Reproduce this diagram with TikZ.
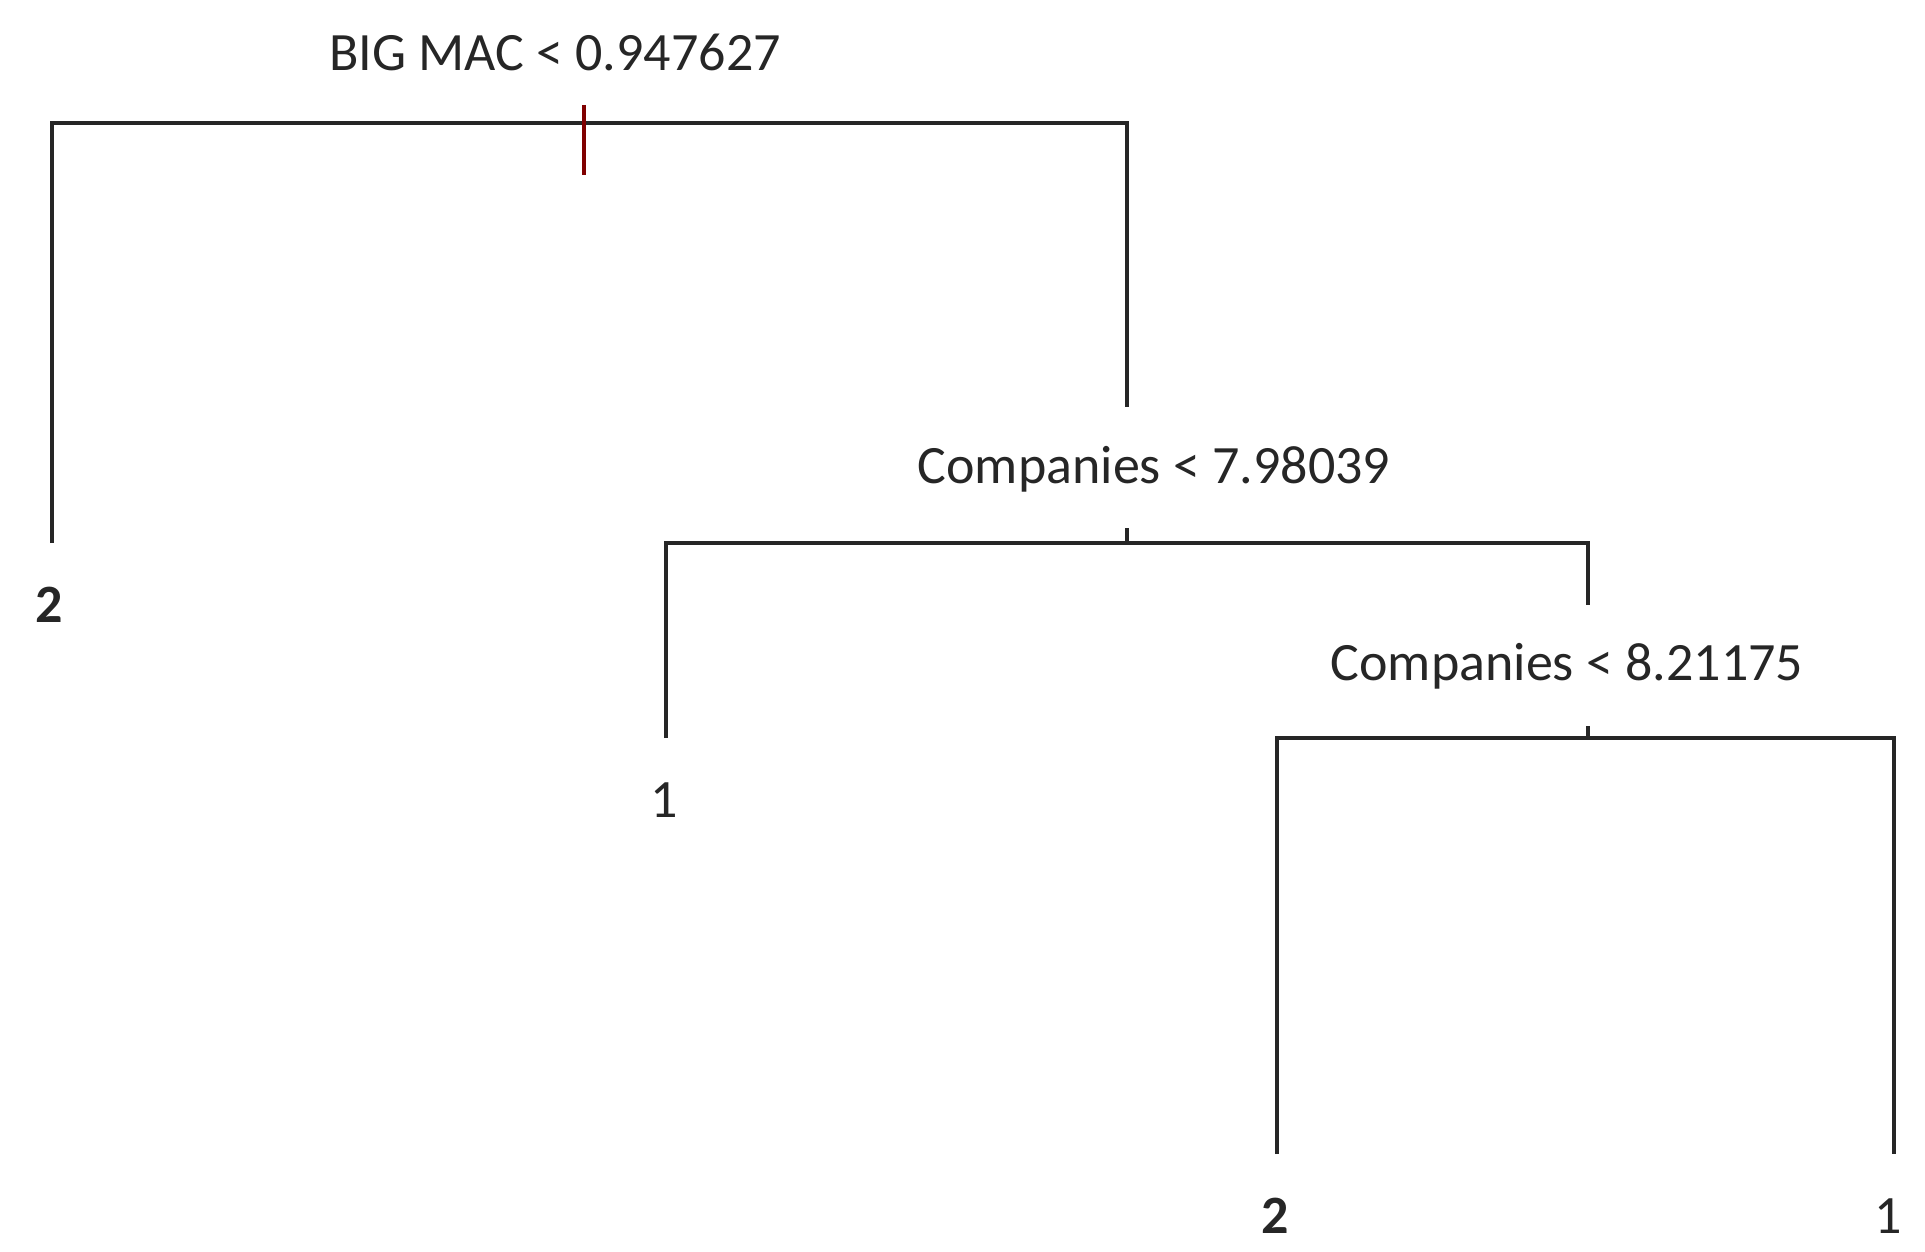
\documentclass[tikz,border=0pt]{standalone}
\usepackage{fontspec}
\setmainfont{Carlito}
\begin{document}
\begin{tikzpicture}[x=1pt,y=-1pt,
  br/.style={line width=4pt,black!85},
  lbl/.style={font=\fontsize{54}{58}\selectfont,inner sep=0pt,text=black!85},
  leaf/.style={font=\fontsize{54}{58}\selectfont\bfseries,inner sep=0pt,text=black!85}]
\useasboundingbox (0,0) rectangle (1925,1252);
\node[lbl] (t1) at (555,52) {BIG MAC < 0.947627};
\node[lbl] (t2) at (1154,469) {Companies < 7.98039};
\node[lbl] (t3) at (1567,666) {Companies < 8.21175};
\node[leaf] (l1) at (49,605) {2};
\node[lbl] (l2) at (664,800) {1};
\node[leaf] (l3) at (1275,1216) {2};
\node[lbl] (l4) at (1888,1216) {1};
\coordinate (c1) at (1127,407);
\coordinate (c2) at (1588,605);
\draw[br] (52,543) -- (52,123) -- (1127,123) -- (c1);
\draw[line width=4pt,red!50!black] (584,105) -- (584,175);
\draw[br] (1127,528) -- (1127,543);
\draw[br] (666,738) -- (666,543) -- (1588,543) -- (c2);
\draw[br] (1588,726) -- (1588,738);
\draw[br] (1277,1154) -- (1277,738) -- (1894,738) -- (1894,1154);
\end{tikzpicture}
\end{document}
